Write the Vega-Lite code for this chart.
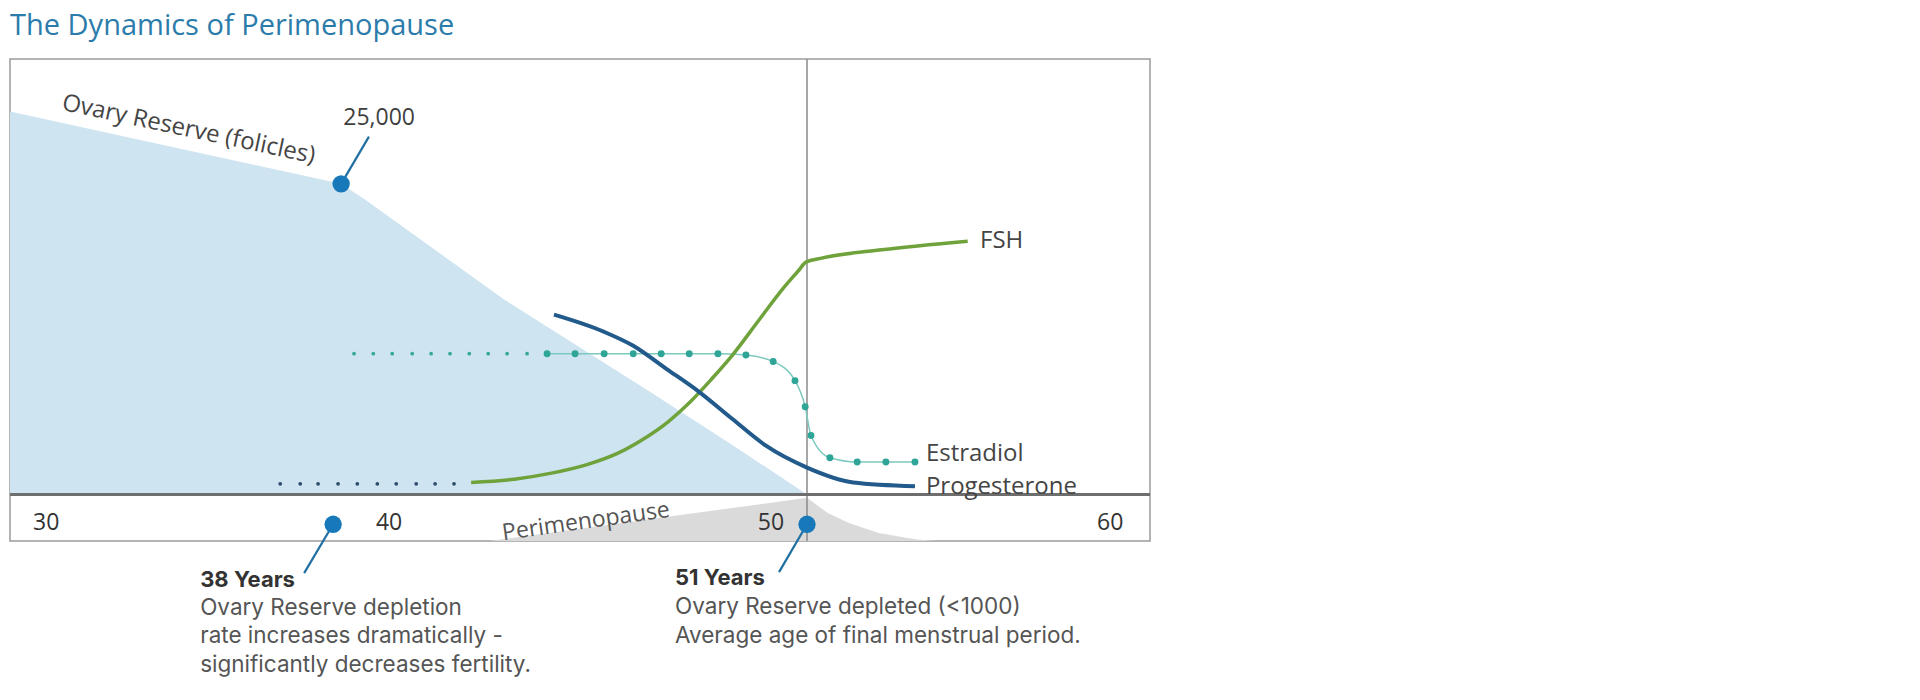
{
  "$schema": "https://vega.github.io/schema/vega-lite/v6.json",
  "width": 1140,
  "height": 482,
  "autosize": {"type": "none"},
  "padding": {"left": 10, "top": 59, "right": 770, "bottom": 159},
  "background": "white",
  "title": {
    "text": "The Dynamics of Perimenopause",
    "anchor": "start",
    "frame": "group",
    "font": "Open Sans",
    "fontSize": 29,
    "fontWeight": "normal",
    "color": "#2c7cab",
    "baseline": "alphabetic",
    "offset": 26,
    "dy": 32
  },
  "config": {
    "view": {"stroke": "#9c9c9c", "strokeWidth": 1.5},
    "font": "Open Sans",
    "text": {"font": "Open Sans"}
  },
  "datasets": {
    "reserve": [
      {"age": 29.106, "level": 82.4},
      {"age": 38.215, "level": 66.84},
      {"age": 38.85, "level": 63.6},
      {"age": 42.67, "level": 42.1},
      {"age": 46.71, "level": 22.1},
      {"age": 49.05, "level": 10.3},
      {"age": 51.03, "level": 0}
    ],
    "perimenopause": [
      {"age": 42.3, "level": -10},
      {"age": 51.03, "level": -0.7},
      {"age": 51.6, "level": -4.0},
      {"age": 52.2, "level": -6.2},
      {"age": 53.0, "level": -8.3},
      {"age": 54.0, "level": -9.6},
      {"age": 54.6, "level": -10}
    ],
    "fsh": [
      {"age": 41.79, "level": 2.6},
      {"age": 42.98, "level": 3.3},
      {"age": 44.0, "level": 4.6},
      {"age": 45.0, "level": 6.5},
      {"age": 45.8, "level": 8.8},
      {"age": 46.5, "level": 11.8},
      {"age": 47.2, "level": 15.6},
      {"age": 47.8, "level": 19.8},
      {"age": 48.4, "level": 24.8},
      {"age": 48.98, "level": 30.0},
      {"age": 49.72, "level": 37.65},
      {"age": 50.39, "level": 44.5},
      {"age": 50.8, "level": 48.2},
      {"age": 51.0, "level": 50.0},
      {"age": 51.4, "level": 50.8},
      {"age": 53.09, "level": 52.65},
      {"age": 55.45, "level": 54.5}
    ],
    "fshEarly": [
      {"age": 36.54, "level": 2.3},
      {"age": 37.09, "level": 2.3},
      {"age": 37.58, "level": 2.3},
      {"age": 38.13, "level": 2.3},
      {"age": 38.66, "level": 2.3},
      {"age": 39.21, "level": 2.3},
      {"age": 39.73, "level": 2.3},
      {"age": 40.28, "level": 2.3},
      {"age": 40.8, "level": 2.3},
      {"age": 41.32, "level": 2.3}
    ],
    "progesterone": [
      {"age": 44.07, "level": 38.7},
      {"age": 45.45, "level": 35.0},
      {"age": 46.25, "level": 32.0},
      {"age": 47.15, "level": 27.1},
      {"age": 48.06, "level": 22.1},
      {"age": 48.97, "level": 16.3},
      {"age": 49.9, "level": 10.5},
      {"age": 51.03, "level": 5.8},
      {"age": 52.3, "level": 2.6},
      {"age": 54.0, "level": 1.8}
    ],
    "estradiolEarly": [
      {"age": 38.57, "level": 30.3},
      {"age": 39.1, "level": 30.3},
      {"age": 39.62, "level": 30.3},
      {"age": 40.17, "level": 30.3},
      {"age": 40.69, "level": 30.3},
      {"age": 41.21, "level": 30.3},
      {"age": 41.74, "level": 30.3},
      {"age": 42.26, "level": 30.3},
      {"age": 42.78, "level": 30.3},
      {"age": 43.33, "level": 30.3}
    ],
    "estradiol": [
      {"age": 43.88, "level": 30.3},
      {"age": 44.65, "level": 30.3},
      {"age": 45.45, "level": 30.3},
      {"age": 46.25, "level": 30.3},
      {"age": 47.02, "level": 30.3},
      {"age": 47.79, "level": 30.3},
      {"age": 48.58, "level": 30.3},
      {"age": 49.35, "level": 30.0},
      {"age": 50.1, "level": 28.6},
      {"age": 50.7, "level": 24.5},
      {"age": 50.98, "level": 18.9},
      {"age": 51.14, "level": 12.7},
      {"age": 51.66, "level": 7.9},
      {"age": 52.41, "level": 7.0},
      {"age": 53.2, "level": 7.0},
      {"age": 54.0, "level": 7.0}
    ],
    "finalPeriod": [{"age": 51.03}],
    "baseline": [{"level": 0}],
    "markers": [
      {"age": 38.215, "level": 66.84},
      {"age": 37.995, "level": -6.4},
      {"age": 51.03, "level": -6.4}
    ],
    "leaders": [
      {"age": 38.215, "level": 66.84, "age2": 38.98, "level2": 77.0},
      {"age": 37.995, "level": -6.4, "age2": 37.197, "level2": -16.9},
      {"age": 51.03, "level": -6.4, "age2": 50.26, "level2": -16.7}
    ],
    "seriesLabels": [
      {"text": "FSH", "age": 55.79, "level": 54.6},
      {"text": "Estradiol", "age": 54.3, "level": 8.7},
      {"text": "Progesterone", "age": 54.3, "level": 1.6}
    ],
    "ageTicks": [
      {"text": "30", "age": 30.1, "level": -6.2},
      {"text": "40", "age": 39.535, "level": -6.2},
      {"text": "50", "age": 50.04, "level": -6.2},
      {"text": "60", "age": 59.37, "level": -6.2}
    ],
    "counts": [
      {"text": "25,000", "age": 39.26, "level": 81.1}
    ],
    "reserveLabel": [
      {"text": "Ovary Reserve (folicles)", "age": 34.02, "level": 78.5}
    ],
    "periLabel": [
      {"text": "Perimenopause", "age": 44.95, "level": -5.8}
    ],
    "heads": [
      {"text": "38 Years", "age": 34.337, "level": -18.4},
      {"text": "51 Years", "age": 47.4, "level": -18.0}
    ],
    "notes": [
      {"text": "Ovary Reserve depletion", "age": 34.337, "level": -24.4},
      {"text": "rate increases dramatically -", "age": 34.337, "level": -30.4},
      {"text": "significantly decreases fertility.", "age": 34.337, "level": -36.6},
      {"text": "Ovary Reserve depleted (<1000)", "age": 47.4, "level": -24.2},
      {"text": "Average age of final menstrual period.", "age": 47.4, "level": -30.4}
    ]
  },
  "layer": [
    {
      "data": {"name": "reserve"},
      "mark": {"type": "area", "color": "#cfe4f1", "interpolate": "linear"},
      "encoding": {
        "x": {"field": "age", "type": "quantitative", "scale": {"domain": [29.106, 60.465], "nice": false, "zero": false}, "axis": null},
        "y": {"field": "level", "type": "quantitative", "scale": {"domain": [-10, 93.7], "nice": false, "zero": false}, "axis": null},
        "y2": {"datum": 0}
      }
    },
    {
      "data": {"name": "perimenopause"},
      "mark": {"type": "area", "color": "#dadada", "interpolate": "linear"},
      "encoding": {
        "x": {"field": "age", "type": "quantitative", "scale": {"domain": [29.106, 60.465], "nice": false, "zero": false}, "axis": null},
        "y": {"field": "level", "type": "quantitative", "scale": {"domain": [-10, 93.7], "nice": false, "zero": false}, "axis": null},
        "y2": {"datum": -10}
      }
    },
    {
      "data": {"name": "finalPeriod"},
      "mark": {"type": "rule", "color": "#8a8a8a", "strokeWidth": 1.5},
      "encoding": {
        "x": {"field": "age", "type": "quantitative", "scale": {"domain": [29.106, 60.465], "nice": false, "zero": false}, "axis": null}
      }
    },
    {
      "data": {"name": "baseline"},
      "mark": {"type": "rule", "color": "#6e6e6e", "strokeWidth": 3},
      "encoding": {
        "y": {"field": "level", "type": "quantitative", "scale": {"domain": [-10, 93.7], "nice": false, "zero": false}, "axis": null}
      }
    },
    {
      "data": {"name": "fshEarly"},
      "mark": {"type": "circle", "color": "#2c4a6a", "size": 14, "opacity": 1},
      "encoding": {
        "x": {"field": "age", "type": "quantitative", "scale": {"domain": [29.106, 60.465], "nice": false, "zero": false}, "axis": null},
        "y": {"field": "level", "type": "quantitative", "scale": {"domain": [-10, 93.7], "nice": false, "zero": false}, "axis": null}
      }
    },
    {
      "data": {"name": "estradiolEarly"},
      "mark": {"type": "circle", "color": "#33a89a", "size": 14, "opacity": 1},
      "encoding": {
        "x": {"field": "age", "type": "quantitative", "scale": {"domain": [29.106, 60.465], "nice": false, "zero": false}, "axis": null},
        "y": {"field": "level", "type": "quantitative", "scale": {"domain": [-10, 93.7], "nice": false, "zero": false}, "axis": null}
      }
    },
    {
      "data": {"name": "estradiol"},
      "mark": {"type": "line", "color": "#7cc9bf", "strokeWidth": 1.5, "interpolate": "monotone"},
      "encoding": {
        "x": {"field": "age", "type": "quantitative", "scale": {"domain": [29.106, 60.465], "nice": false, "zero": false}, "axis": null},
        "y": {"field": "level", "type": "quantitative", "scale": {"domain": [-10, 93.7], "nice": false, "zero": false}, "axis": null}
      }
    },
    {
      "data": {"name": "fsh"},
      "mark": {"type": "line", "color": "#6fa23b", "strokeWidth": 3.5, "interpolate": "monotone"},
      "encoding": {
        "x": {"field": "age", "type": "quantitative", "scale": {"domain": [29.106, 60.465], "nice": false, "zero": false}, "axis": null},
        "y": {"field": "level", "type": "quantitative", "scale": {"domain": [-10, 93.7], "nice": false, "zero": false}, "axis": null}
      }
    },
    {
      "data": {"name": "progesterone"},
      "mark": {"type": "line", "color": "#215a8b", "strokeWidth": 4, "interpolate": "monotone"},
      "encoding": {
        "x": {"field": "age", "type": "quantitative", "scale": {"domain": [29.106, 60.465], "nice": false, "zero": false}, "axis": null},
        "y": {"field": "level", "type": "quantitative", "scale": {"domain": [-10, 93.7], "nice": false, "zero": false}, "axis": null}
      }
    },
    {
      "data": {"name": "estradiol"},
      "mark": {"type": "circle", "color": "#2fa597", "size": 48, "opacity": 1},
      "encoding": {
        "x": {"field": "age", "type": "quantitative", "scale": {"domain": [29.106, 60.465], "nice": false, "zero": false}, "axis": null},
        "y": {"field": "level", "type": "quantitative", "scale": {"domain": [-10, 93.7], "nice": false, "zero": false}, "axis": null}
      }
    },
    {
      "data": {"name": "leaders"},
      "mark": {"type": "rule", "color": "#1f6fa2", "strokeWidth": 2.2},
      "encoding": {
        "x": {"field": "age", "type": "quantitative", "scale": {"domain": [29.106, 60.465], "nice": false, "zero": false}, "axis": null},
        "y": {"field": "level", "type": "quantitative", "scale": {"domain": [-10, 93.7], "nice": false, "zero": false}, "axis": null},
        "x2": {"field": "age2"},
        "y2": {"field": "level2"}
      }
    },
    {
      "data": {"name": "markers"},
      "mark": {"type": "circle", "color": "#1879ba", "size": 300, "opacity": 1},
      "encoding": {
        "x": {"field": "age", "type": "quantitative", "scale": {"domain": [29.106, 60.465], "nice": false, "zero": false}, "axis": null},
        "y": {"field": "level", "type": "quantitative", "scale": {"domain": [-10, 93.7], "nice": false, "zero": false}, "axis": null}
      }
    },
    {
      "data": {"name": "seriesLabels"},
      "mark": {"type": "text", "align": "left", "baseline": "middle", "fontSize": 24, "color": "#454545"},
      "encoding": {
        "x": {"field": "age", "type": "quantitative", "scale": {"domain": [29.106, 60.465], "nice": false, "zero": false}, "axis": null},
        "y": {"field": "level", "type": "quantitative", "scale": {"domain": [-10, 93.7], "nice": false, "zero": false}, "axis": null},
        "text": {"field": "text"}
      }
    },
    {
      "data": {"name": "ageTicks"},
      "mark": {"type": "text", "align": "center", "baseline": "middle", "fontSize": 23, "color": "#333333"},
      "encoding": {
        "x": {"field": "age", "type": "quantitative", "scale": {"domain": [29.106, 60.465], "nice": false, "zero": false}, "axis": null},
        "y": {"field": "level", "type": "quantitative", "scale": {"domain": [-10, 93.7], "nice": false, "zero": false}, "axis": null},
        "text": {"field": "text"}
      }
    },
    {
      "data": {"name": "counts"},
      "mark": {"type": "text", "align": "center", "baseline": "middle", "fontSize": 23, "color": "#3f3f3f"},
      "encoding": {
        "x": {"field": "age", "type": "quantitative", "scale": {"domain": [29.106, 60.465], "nice": false, "zero": false}, "axis": null},
        "y": {"field": "level", "type": "quantitative", "scale": {"domain": [-10, 93.7], "nice": false, "zero": false}, "axis": null},
        "text": {"field": "text"}
      }
    },
    {
      "data": {"name": "reserveLabel"},
      "mark": {"type": "text", "align": "center", "baseline": "middle", "fontSize": 24, "angle": 12, "color": "#454545"},
      "encoding": {
        "x": {"field": "age", "type": "quantitative", "scale": {"domain": [29.106, 60.465], "nice": false, "zero": false}, "axis": null},
        "y": {"field": "level", "type": "quantitative", "scale": {"domain": [-10, 93.7], "nice": false, "zero": false}, "axis": null},
        "text": {"field": "text"}
      }
    },
    {
      "data": {"name": "periLabel"},
      "mark": {"type": "text", "align": "center", "baseline": "middle", "fontSize": 23, "angle": 352, "color": "#555555"},
      "encoding": {
        "x": {"field": "age", "type": "quantitative", "scale": {"domain": [29.106, 60.465], "nice": false, "zero": false}, "axis": null},
        "y": {"field": "level", "type": "quantitative", "scale": {"domain": [-10, 93.7], "nice": false, "zero": false}, "axis": null},
        "text": {"field": "text"}
      }
    },
    {
      "data": {"name": "heads"},
      "mark": {"type": "text", "align": "left", "baseline": "middle", "font": "Inter", "fontSize": 22, "fontWeight": "bold", "color": "#333333"},
      "encoding": {
        "x": {"field": "age", "type": "quantitative", "scale": {"domain": [29.106, 60.465], "nice": false, "zero": false}, "axis": null},
        "y": {"field": "level", "type": "quantitative", "scale": {"domain": [-10, 93.7], "nice": false, "zero": false}, "axis": null},
        "text": {"field": "text"}
      }
    },
    {
      "data": {"name": "notes"},
      "mark": {"type": "text", "align": "left", "baseline": "middle", "font": "Inter", "fontSize": 22.5, "color": "#555555"},
      "encoding": {
        "x": {"field": "age", "type": "quantitative", "scale": {"domain": [29.106, 60.465], "nice": false, "zero": false}, "axis": null},
        "y": {"field": "level", "type": "quantitative", "scale": {"domain": [-10, 93.7], "nice": false, "zero": false}, "axis": null},
        "text": {"field": "text"}
      }
    }
  ]
}
